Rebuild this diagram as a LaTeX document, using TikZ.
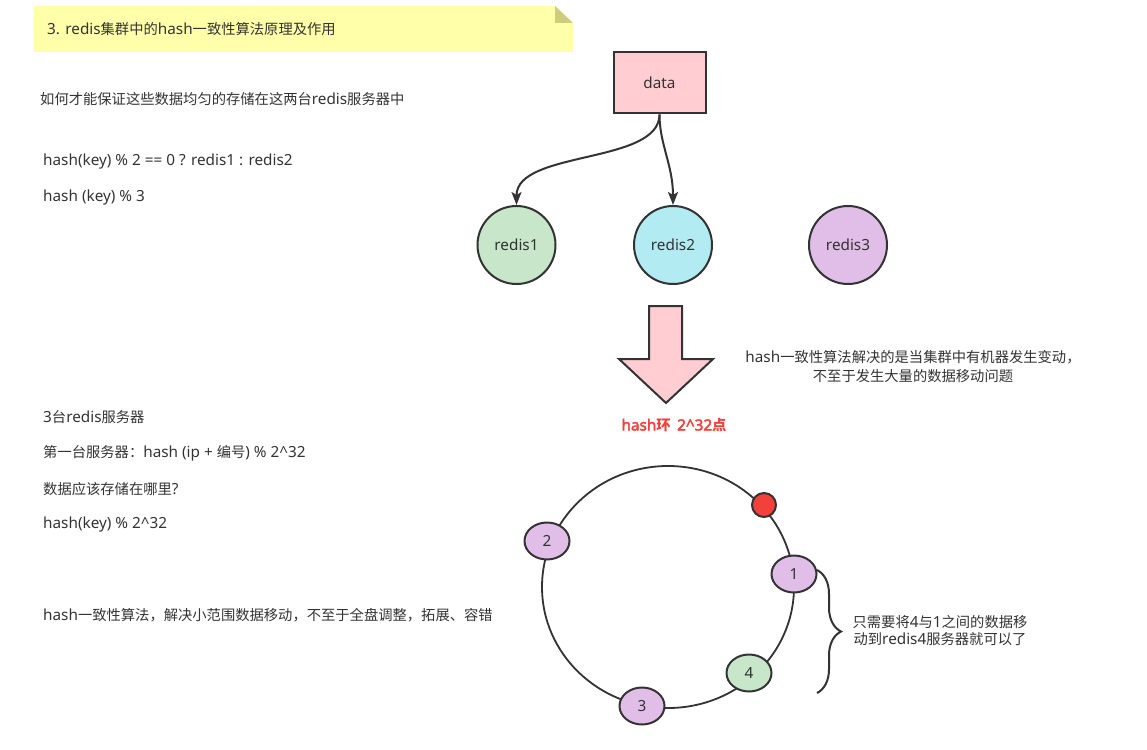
\documentclass[tikz,border=0pt]{standalone}
\usepackage{fontspec}
\setmainfont{Noto Sans}[Scale=1.07,AutoFakeBold=2.5]
\newfontfamily\cjk{Noto Sans CJK SC}
\XeTeXinterchartokenstate=1
\newXeTeXintercharclass\hanclass
\newcount\hanchar
\hanchar="2E80
\loop\XeTeXcharclass\hanchar=\hanclass\ifnum\hanchar<"9FFF\advance\hanchar by 1\repeat
\hanchar="FF00
\loop\XeTeXcharclass\hanchar=\hanclass\ifnum\hanchar<"FFEF\advance\hanchar by 1\repeat
\XeTeXinterchartoks 0 \hanclass = {\cjk}
\XeTeXinterchartoks 4095 \hanclass = {\cjk}
\XeTeXinterchartoks \hanclass 0 = {\rmfamily}
\XeTeXinterchartoks 4095 0 = {\rmfamily}
\usepackage{xcolor}
\usetikzlibrary{arrows.meta,shapes.geometric,decorations.pathreplacing}
\definecolor{ink}{HTML}{333333}
\definecolor{notebg}{HTML}{FFFFAA}
\definecolor{notefold}{HTML}{CCCC7A}
\definecolor{pinkfill}{HTML}{FFCDD2}
\definecolor{greenfill}{HTML}{C8E6C9}
\definecolor{cyanfill}{HTML}{B2EBF2}
\definecolor{lilac}{HTML}{E1BEE7}
\definecolor{hotred}{HTML}{F2403A}
\begin{document}
\begin{tikzpicture}[x=1pt,y=-1pt,
  every node/.style={font=\fontsize{14.3}{19}\selectfont,text=ink},
  txt/.style={anchor=west,inner sep=0pt},
  server/.style={circle,draw=ink,line width=2pt,minimum size=78pt,inner sep=0pt},
  point/.style={ellipse,draw=ink,line width=2pt,minimum width=45pt,minimum height=37pt,inner sep=0pt,fill=lilac},
  link/.style={draw=ink,line width=2pt,-{Stealth[length=13pt,width=10pt,inset=3pt]}}]
  \useasboundingbox (0,0) rectangle (1147,749);
  \fill[notebg] (34,6) -- (555,6) -- (573,23) -- (573,52) -- (34,52) -- cycle;
  \fill[notefold] (555,6) -- (573,23) -- (555,23) -- cycle;
  \node[txt] (title) at (47,29) {3. redis集群中的hash一致性算法原理及作用};
  \node[txt] (q1) at (40,99) {如何才能保证这些数据均匀的存储在这两台redis服务器中};
  \node[txt] (mod2) at (43,162) {hash(key) \% 2 == 0 ? redis1 : redis2};
  \node[txt] (mod3) at (43,198) {hash (key) \% 3};
  \node[txt] (three) at (43,417) {3台redis服务器};
  \node[txt] (first) at (43,453) {第一台服务器：hash (ip + 编号) \% 2\textasciicircum 32};
  \node[txt] (where) at (43,489) {数据应该存储在哪里?};
  \node[txt] (keymod) at (43,525) {hash(key) \% 2\textasciicircum 32};
  \node[txt] (summary) at (43,615) {hash一致性算法，解决小范围数据移动，不至于全盘调整，拓展、容错};
  \node[draw=ink,line width=2pt,fill=pinkfill,minimum width=92pt,minimum height=61pt] (data) at (659.5,83) {data};
  \node[server,fill=greenfill] (r1) at (516.5,245) {redis1};
  \node[server,fill=cyanfill] (r2) at (673,245) {redis2};
  \node[server,fill=lilac] (r3) at (848,245) {redis3};
  \draw[link] (data.south) .. controls +(0,50) and +(0,-55) .. (r1.north);
  \draw[link] (data.south) .. controls +(0,30) and +(0,-40) .. (r2.north);
  \draw[ink,line width=2pt,fill=pinkfill,line join=miter] (649,306) -- (682,306) -- (682,359) -- (713,359) -- (666,403) -- (619,359) -- (649,359) -- cycle;
  \node[align=center,inner sep=0pt] (note) at (913,367) {hash一致性算法解决的是当集群中有机器发生变动，\\不至于发生大量的数据移动问题};
  \node[inner sep=0pt,text=hotred,font=\fontsize{14.3}{19}\selectfont\bfseries] (ringlabel) at (674,425) {hash环\ \ 2\textasciicircum 32点};
  \coordinate (ctr) at (668,587);
  \draw[ink,line width=1.8pt] (ctr) ellipse [x radius=126, y radius=121];
  \node[circle,draw=ink,line width=2pt,fill=hotred,minimum size=24pt,inner sep=0pt] (key) at (764,505) {};
  \node[point] (p1) at (794,574) {1};
  \node[point] (p2) at (547,541) {2};
  \node[point] (p3) at (642,706) {3};
  \node[point,fill=greenfill] (p4) at (749,673) {4};
  \coordinate (bt) at (817,570);
  \coordinate (bb) at (817,693);
  \draw[ink,line width=2pt,decorate,decoration={brace,amplitude=24pt}] (bt) -- (bb);
  \node[align=center,inner sep=0pt,font=\fontsize{14.3}{17}\selectfont] (move) at (940,631) {只需要将4与1之间的数据移\\动到redis4服务器就可以了};
\end{tikzpicture}
\end{document}
